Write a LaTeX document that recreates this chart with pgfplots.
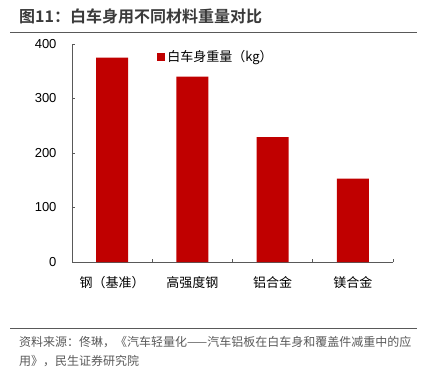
\documentclass[border=0pt]{standalone}
\usepackage{pgfplots}
\pgfplotsset{compat=1.18}
\usepackage{fontspec}
\setmainfont{Liberation Sans}
\newfontfamily\cjk{Noto Sans CJK SC}[BoldFont={Noto Sans CJK SC Bold}]
\definecolor{barred}{HTML}{C00000}
\definecolor{axgray}{HTML}{595959}
\definecolor{titlec}{HTML}{3A3A3A}
\begin{document}
\begin{tikzpicture}[x=1pt,y=1pt]
\useasboundingbox (0,0) rectangle (427,377);
\node[anchor=west, inner sep=0pt, text=titlec, font=\cjk\bfseries\fontsize{16}{16}\selectfont] at (19,361) {图11：白车身用不同材料重量对比};
\draw[axgray, line width=1pt] (10,344) -- (417,344);
\begin{axis}[
  at={(72pt,115pt)}, anchor=south west,
  scale only axis, width=321pt, height=218pt,
  xmin=-0.5, xmax=3.5, ymin=0, ymax=400,
  axis lines*=left,
  axis line style={axgray, line width=0.8pt},
  xtick={0,1,2,3},
  xticklabels={钢（基准）,高强度钢,铝合金,镁合金},
  minor xtick={-0.5,0.5,1.5,2.5,3.5},
  major x tick style={draw=none},
  ytick={0,100,200,300,400},
  tick align=inside,
  major tick length=3pt, minor tick length=3pt,
  tick style={axgray, line width=0.8pt},
  /pgf/number format/assume math mode=true,
  yticklabel style={font=\fontsize{13}{13}\selectfont, text=black, xshift=-12pt},
  xticklabel style={font=\cjk\fontsize{13}{13}\selectfont, text=black, yshift=-11pt},
  legend style={at={(0.265,0.94)}, anchor=west, draw=none, fill=none,
    font=\cjk\fontsize{13}{13}\selectfont, inner sep=0pt},
  legend image code/.code={\fill[barred] (0pt,-4pt) rectangle (8pt,4pt);},
  legend cell align=left,
]
\addplot[ybar, bar width=32pt, fill=barred, draw=none] coordinates {(0,375) (1,340) (2,229) (3,153)};
\addlegendentry{白车身重量（kg）}
\end{axis}
\draw[axgray, line width=1pt] (10,49) -- (417,49);
\node[anchor=west, inner sep=0pt, text=axgray, font=\cjk\fontsize{12}{12}\selectfont] at (19,35) {资料来源：佟琳，《汽车轻量化——汽车铝板在白车身和覆盖件减重中的应};
\node[anchor=west, inner sep=0pt, text=axgray, font=\cjk\fontsize{12}{12}\selectfont] at (19,16) {用》，民生证券研究院};
\end{tikzpicture}
\end{document}
